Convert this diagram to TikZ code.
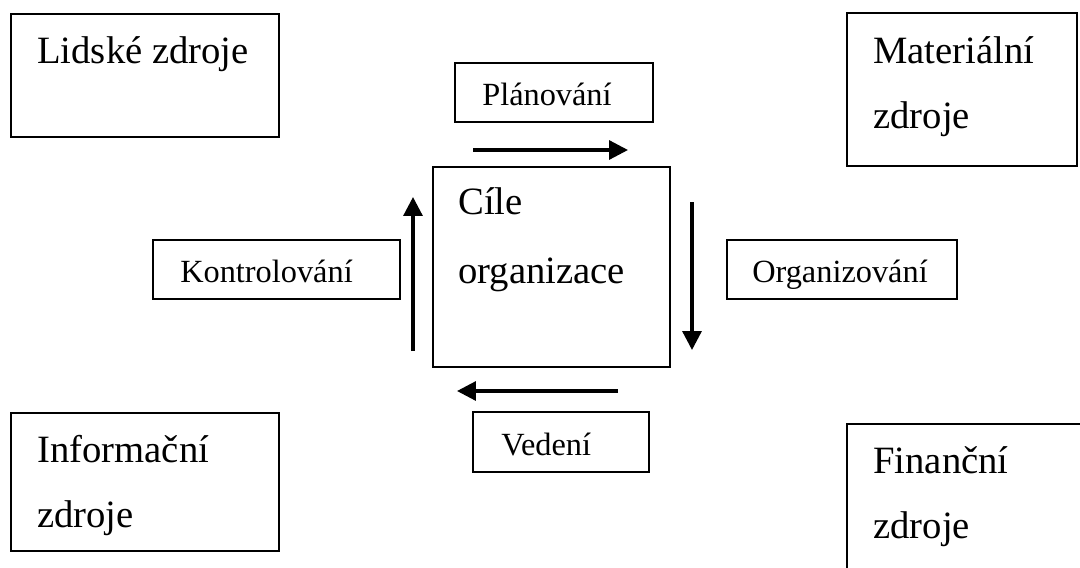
\documentclass[tikz,border=0pt]{standalone}
\usepackage{fontspec}
\setmainfont{Liberation Serif}
\usetikzlibrary{arrows.meta,fit}
\tikzset{
    box/.style={draw, line width=1.4pt, inner sep=0pt},
    bigtext/.style={anchor=base west, inner sep=0pt, align=left, font=\fontsize{27.5}{46.2}\selectfont},
    smalltext/.style={anchor=base west, inner sep=0pt, font=\fontsize{23}{28}\selectfont},
    flow/.style={line width=2.3pt, -{Triangle[length=13.5pt, width=13.5pt]}}
}
\begin{document}
\begin{tikzpicture}[x=0.025cm, y=-0.025cm]
            \clip (0, 0) rectangle (1080, 567);
            \fill[white] (0, 0) rectangle (1080, 567);

            % zdroje v rozich
            \node[box, fit={(11, 14) (279, 137)}] (lidske) {};
            \node[bigtext] (lidsketext) at (37, 63) {Lidské zdroje};
            \node[box, fit={(847, 13) (1077, 166)}] (materialni) {};
            \node[bigtext] (materialnitext) at (873, 128) {Materiální\\zdroje};
            \node[box, fit={(11, 413) (279, 551)}] (informacni) {};
            \node[bigtext] (informacnitext) at (37, 527) {Informační\\zdroje};
            \node[box, fit={(847, 424) (1100, 600)}] (financni) {};
            \node[bigtext] (financnitext) at (873, 538) {Finanční\\zdroje};

            % cile uprostred
            \node[box, fit={(433, 167) (670, 367)}] (cile) {};
            \node[bigtext, font=\fontsize{27.5}{48.4}\selectfont] (ciletext) at (458, 283) {Cíle\\organizace};

            % funkce
            \node[box, fit={(455, 63) (653, 122)}] (planovani) {};
            \node[smalltext] (planovanitext) at (482, 105) {Plánování};
            \node[box, fit={(727, 240) (957, 299)}] (organizovani) {};
            \node[smalltext] (organizovanitext) at (752, 282) {Organizování};
            \node[box, fit={(473, 412) (649, 472)}] (vedeni) {};
            \node[smalltext] (vedenitext) at (501, 455) {Vedení};
            \node[box, fit={(153, 240) (400, 299)}] (kontrolovani) {};
            \node[smalltext] (kontrolovanitext) at (180, 282) {Kontrolování};

            % sipky kolem cilu
            \coordinate (p0) at (473, 150);
            \coordinate (p1) at (628, 150);
            \coordinate (o0) at (692, 202);
            \coordinate (o1) at (692, 350);
            \coordinate (v0) at (618, 391);
            \coordinate (v1) at (457, 391);
            \coordinate (k0) at (413, 351);
            \coordinate (k1) at (413, 197);
            \draw[flow] (p0) -- (p1);
            \draw[flow] (o0) -- (o1);
            \draw[flow] (v0) -- (v1);
            \draw[flow] (k0) -- (k1);
\end{tikzpicture}
\end{document}
